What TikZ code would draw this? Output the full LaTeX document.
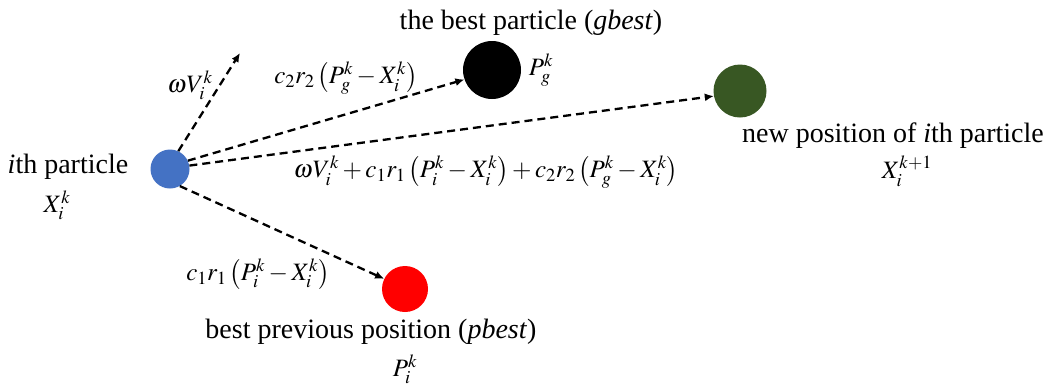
\documentclass[tikz,border=0pt]{standalone}
\usepackage{mathptmx}
\usepackage[no-math]{fontspec}
\setmainfont{Liberation Serif}
\usetikzlibrary{arrows.meta}
\definecolor{pblue}{HTML}{4472C4}
\definecolor{pgreen}{HTML}{385723}
\definecolor{pred}{HTML}{FF0000}
\tikzset{
  particle/.style={circle,inner sep=0pt,draw=none},
  move/.style={dash pattern=on 8pt off 5pt,line width=2.3pt,-{Latex[length=9pt,width=8pt]}},
  lbl/.style={inner sep=0pt,font=\fontsize{28}{32}\selectfont},
  mlbl/.style={inner sep=0pt,font=\fontsize{25}{30}\selectfont},
}
\begin{document}
\begin{tikzpicture}[x=1pt,y=-1pt]
\useasboundingbox (0,0) rectangle (1049,389);
\node[particle,fill=pblue,minimum size=39pt] (blue) at (170,169) {};
\node[particle,fill=black,minimum size=58pt] (best) at (492,70) {};
\node[particle,fill=pgreen,minimum size=53pt] (new) at (740,91) {};
\node[particle,fill=pred,minimum size=46pt] (prev) at (405,289) {};
\coordinate (vtip) at (240,53);

\draw[move] (blue.65) -- (vtip);
\draw[move] (blue.25) -- (best.199);
\draw[move] (blue.10) -- (new.191);
\draw[move] (blue.-60) -- (prev.154);

\node[lbl] (ith) at (68,167) {\textit{i}th particle};
\node[mlbl] (xik) at (57,205) {$X_i^k$};
\node[lbl] (gb) at (531,23) {the best particle (\textit{gbest})};
\node[mlbl] (pg) at (541,70) {$P_g^k$};
\node[mlbl] (wv) at (190,85) {$\omega V_i^k$};
\node[mlbl] (c2) at (346,78) {$c_2r_2\left(P_g^k-X_i^k\right)$};
\node[mlbl] (sum) at (486,172) {$\omega V_i^k+c_1r_1\left(P_i^k-X_i^k\right)+c_2r_2\left(P_g^k-X_i^k\right)$};
\node[mlbl] (c1) at (258,274) {$c_1r_1\left(P_i^k-X_i^k\right)$};
\node[lbl] (pb) at (371,332) {best previous position (\textit{pbest})};
\node[mlbl] (pik) at (405,369) {$P_i^k$};
\node[lbl] (np) at (893,136) {new position of \textit{i}th particle};
\node[mlbl] (xk1) at (907,171) {$X_i^{k+1}$};
\end{tikzpicture}
\end{document}
